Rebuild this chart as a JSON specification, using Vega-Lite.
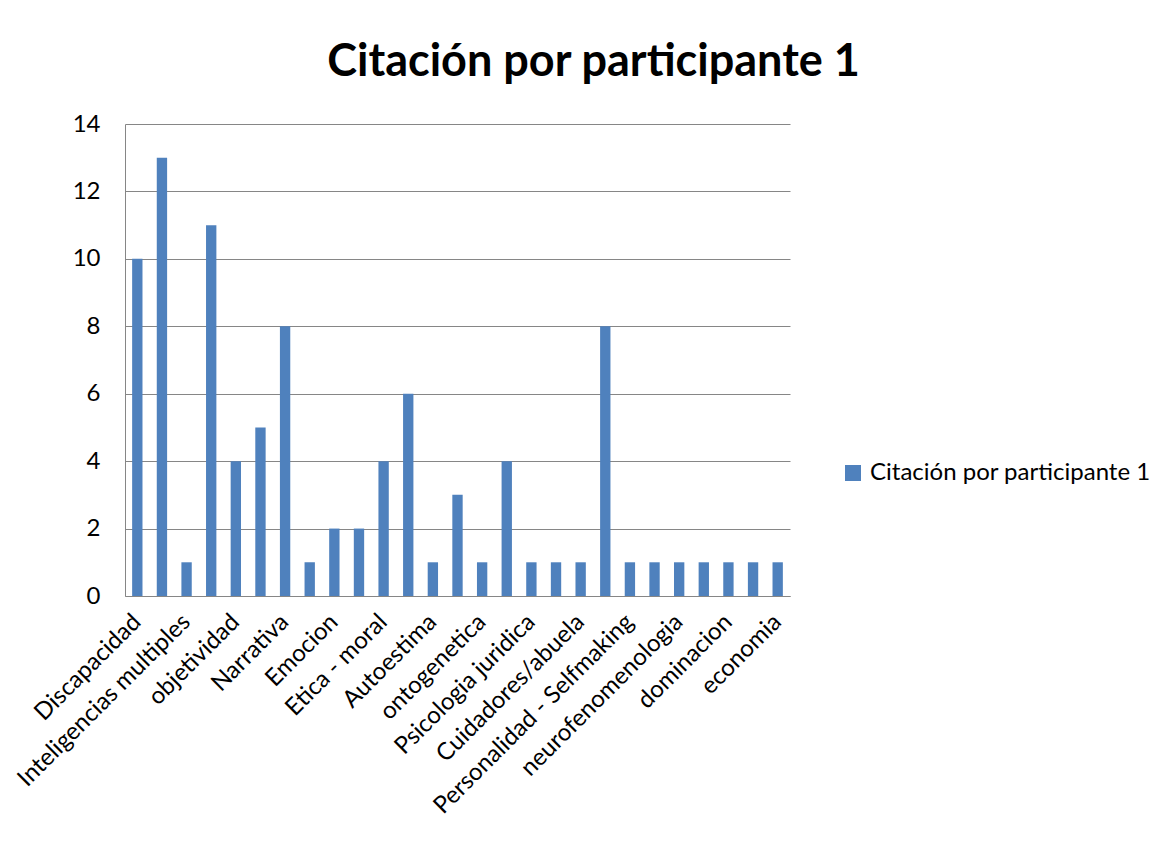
{
  "$schema": "https://vega.github.io/schema/vega-lite/v6.json",
  "autosize": "none",
  "width": 665,
  "height": 472,
  "padding": {"left": 125, "top": 124, "right": 377, "bottom": 248},
  "background": "white",
  "title": {
    "text": "Citación por participante 1",
    "font": "Lato",
    "fontSize": 45,
    "fontWeight": "bold",
    "color": "#000000",
    "anchor": "middle",
    "frame": "group",
    "dx": 136,
    "offset": 27
  },
  "data": {
    "values": [
      {"orden": 1, "citas": 10},
      {"orden": 2, "citas": 13},
      {"orden": 3, "citas": 1},
      {"orden": 4, "citas": 11},
      {"orden": 5, "citas": 4},
      {"orden": 6, "citas": 5},
      {"orden": 7, "citas": 8},
      {"orden": 8, "citas": 1},
      {"orden": 9, "citas": 2},
      {"orden": 10, "citas": 2},
      {"orden": 11, "citas": 4},
      {"orden": 12, "citas": 6},
      {"orden": 13, "citas": 1},
      {"orden": 14, "citas": 3},
      {"orden": 15, "citas": 1},
      {"orden": 16, "citas": 4},
      {"orden": 17, "citas": 1},
      {"orden": 18, "citas": 1},
      {"orden": 19, "citas": 1},
      {"orden": 20, "citas": 8},
      {"orden": 21, "citas": 1},
      {"orden": 22, "citas": 1},
      {"orden": 23, "citas": 1},
      {"orden": 24, "citas": 1},
      {"orden": 25, "citas": 1},
      {"orden": 26, "citas": 1},
      {"orden": 27, "citas": 1}
    ]
  },
  "mark": {"type": "bar"},
  "encoding": {
    "x": {
      "field": "orden",
      "type": "ordinal",
      "sort": null,
      "scale": {"paddingInner": 0.58, "paddingOuter": 0.29},
      "axis": {
        "title": null,
        "labelAngle": -45,
        "labelAlign": "right",
        "labelBaseline": "middle",
        "labelPadding": 22,
        "labelFont": "Lato",
        "labelFontSize": 24,
        "labelColor": "#000000",
        "labelOverlap": false,
        "labelLimit": 0,
        "ticks": false,
        "domainColor": "#868686",
        "labelExpr": "datum.value % 2 == 1 ? ['Discapacidad','Inteligencias multiples','objetividad','Narrativa','Emocion','Etica - moral','Autoestima','ontogenetica','Psicologia juridica','Cuidadores/abuela','Personalidad - Selfmaking','neurofenomenologia','dominacion','economia'][(datum.value - 1) / 2] : ''"
      }
    },
    "y": {
      "field": "citas",
      "type": "quantitative",
      "scale": {"domain": [0, 14]},
      "axis": {
        "title": null,
        "values": [0, 2, 4, 6, 8, 10, 12, 14],
        "labelFont": "Lato",
        "labelFontSize": 24,
        "labelColor": "#000000",
        "labelPadding": 25,
        "ticks": false,
        "domainColor": "#868686",
        "gridColor": "#868686",
        "gridOpacity": 1
      }
    },
    "color": {
      "datum": "Citación por participante 1",
      "type": "nominal",
      "scale": {"range": ["#4F81BD"]},
      "legend": {
        "title": null,
        "orient": "none",
        "legendX": 716,
        "legendY": 337,
        "symbolType": "square",
        "symbolSize": 256,
        "symbolStrokeWidth": 0,
        "labelFont": "Lato",
        "labelFontSize": 24,
        "labelColor": "#000000",
        "labelOffset": 5,
        "labelLimit": 0
      }
    }
  },
  "config": {
    "view": {"stroke": null}
  }
}
